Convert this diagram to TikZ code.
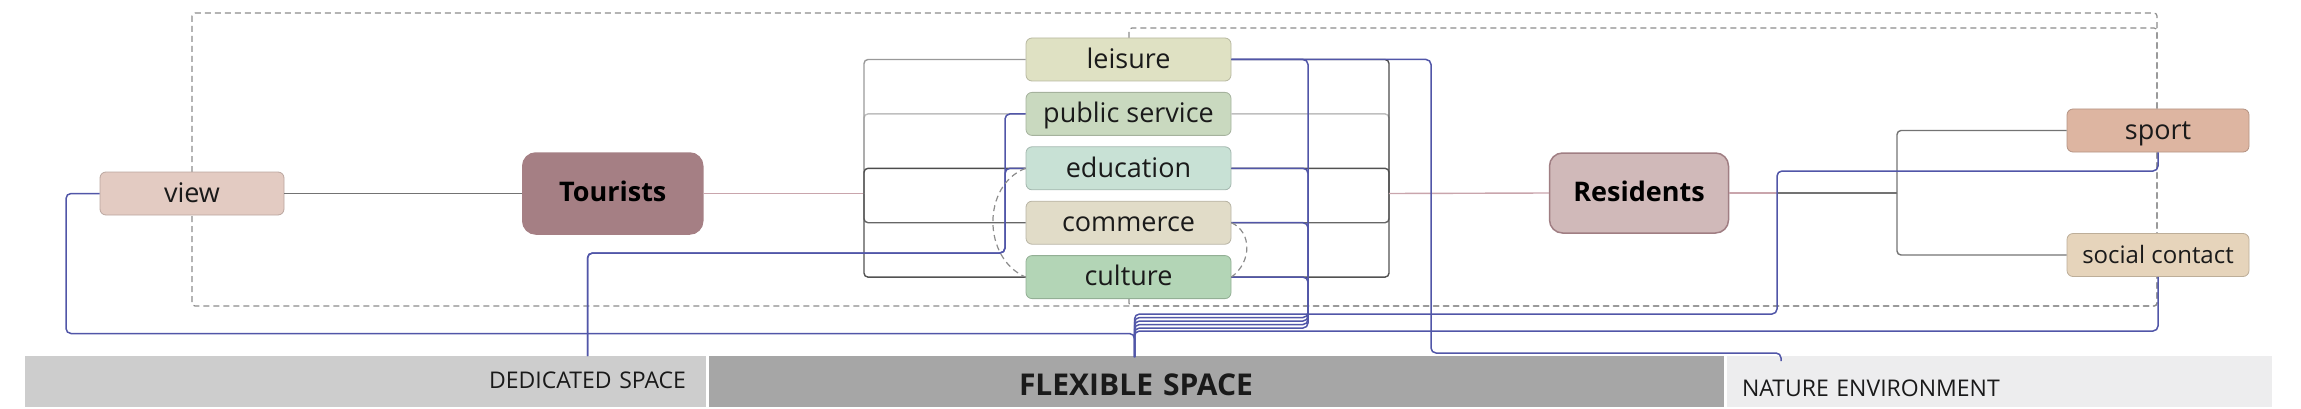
\documentclass[tikz,border=0pt]{standalone}
\usepackage{fontspec}
\setmainfont{Open Sans}
\usepackage{tikz}
\usetikzlibrary{positioning, calc}
\definecolor{txt}{HTML}{1A1A1A}
\definecolor{viewfill}{HTML}{E3CBC2}
\definecolor{tourfill}{HTML}{A57F84}
\definecolor{resfill}{HTML}{D0B9B9}
\definecolor{resline}{HTML}{A07E83}
\definecolor{leisfill}{HTML}{DFE1C3}
\definecolor{pubfill}{HTML}{C9D9BF}
\definecolor{edufill}{HTML}{C8E1D5}
\definecolor{comfill}{HTML}{E1DCC8}
\definecolor{culfill}{HTML}{B3D5B6}
\definecolor{sportfill}{HTML}{DDB5A1}
\definecolor{socfill}{HTML}{E6D4BB}
\definecolor{dedfill}{HTML}{CDCDCD}
\definecolor{flexfill}{HTML}{A6A6A6}
\definecolor{natfill}{HTML}{EDEDEE}
\definecolor{relblue}{HTML}{5156A8}
\definecolor{mauve}{HTML}{C9A5AC}
\definecolor{boundgray}{HTML}{8C8C8C}

\begin{document}
\begin{tikzpicture}[x=1pt, y=-1pt,
    topic/.style={rectangle, rounded corners=6pt, draw=#1!82!black, fill=#1, line width=0.8pt,
        minimum width=205pt, minimum height=43pt, inner sep=0pt, text height=20pt, text depth=2.4pt,
        text=txt, font=\fontsize{27}{32}\selectfont},
    group/.style={rectangle, rounded corners=13pt, draw=#1, fill=#1, line width=1.5pt,
        minimum width=180pt, minimum height=81pt, inner sep=0pt, text height=19pt, text depth=2.6pt,
        text=black, font=\fontsize{27}{32}\selectfont\bfseries},
    bar/.style={rectangle, fill=#1, minimum height=51pt, inner ysep=0pt, text depth=0pt, text=txt},
    branch/.style={line width=1.4pt, rounded corners=4pt},
    rel/.style={draw=relblue, line width=1.5pt, rounded corners=5pt},
    boundary/.style={draw=boundgray, line width=1.2pt, dash pattern=on 6pt off 4pt, rounded corners=3pt}]
    \useasboundingbox (0,0) rectangle (2301,409);
    % Boundaries
    \draw[boundary] (192,13) rectangle (2157,306);
    \draw[boundary] (1129,38) -- (1129,28) -- (2157,28) -- (2157,306) -- (1129,306) -- (1129,295);
    % Topics
    \node[topic=viewfill, minimum width=184pt] (view) at (192,193.5) {view};
    \node[group=tourfill] (tourists) at (612.75,193.5) {Tourists};
    \node[topic=leisfill] (leisure) at (1128.5,59.5) {leisure};
    \node[topic=pubfill, below=10.6pt of leisure] (pubserv) {public service};
    \node[topic=edufill, below=10.6pt of pubserv] (education) {education};
    \node[topic=comfill, below=10.6pt of education] (commerce) {commerce};
    \node[topic=culfill, below=10.6pt of commerce] (culture) {culture};
    \node[group=resfill, draw=resline, minimum width=179pt, minimum height=80pt] (residents) at (1639,193) {Residents};
    \node[topic=sportfill, minimum width=182pt] (sport) at (2158,130.5) {sport};
    \node[topic=socfill, minimum width=182pt, font=\fontsize{24}{28}\selectfont] (social) at (2158,255) {social contact};
    % Space bars
    \node[bar=dedfill, inner xsep=20pt, text width=641pt, align=right, text height=13pt,
        font=\fontsize{23}{26}\selectfont] (dedicated) at (365.5,381.5) {DEDICATED SPACE};
    \node[bar=flexfill, inner xsep=310pt, text width=395pt, align=left, text height=27pt,
        font=\fontsize{30}{34}\selectfont\bfseries] (flexible) at (1216.5,381.5) {FLEXIBLE SPACE};
    \node[bar=natfill, inner xsep=15pt, text width=515pt, align=left, text height=29pt,
        font=\fontsize{23}{26}\selectfont] (nature) at (1999.5,381.5) {NATURE ENVIRONMENT};
    % Tree
    \coordinate (hubL) at (864,193.5);
    \coordinate (hubR) at (1389,193.5);
    \coordinate (hubS) at (1897,193);
    \coordinate (resmid) at (1777,193);
    \draw[branch, draw=black!55] (view.east) -- (tourists.west);
    \draw[branch, draw=mauve] (tourists.east) -- (hubL);
    \draw[branch, draw=black!25] (hubL) |- (pubserv.west);
    \draw[branch, draw=black!40] (hubL) |- (leisure.west);
    \draw[branch, draw=black!60] (hubL) |- (commerce.west);
    \draw[branch, draw=black!70] (hubL) |- (education.west);
    \draw[branch, draw=black!68] (hubL) |- (culture.west);
    \draw[branch, draw=black!25] (pubserv.east) -| (hubR);
    \draw[branch, draw=black!60] (commerce.east) -| (hubR);
    \draw[branch, draw=black!68] (education.east) -| (hubR);
    \draw[branch, draw=black!68] (culture.east) -| (hubR);
    \draw[branch, draw=black!70] (leisure.east) -| (hubR);
    \draw[branch, draw=mauve] (hubR) -- (residents.west);
    \draw[branch, draw=mauve] (residents.east) -- (resmid);
    \draw[branch, draw=black!55] (resmid) -- (hubS);
    \draw[branch, draw=black!55] (hubS) |- (sport.west);
    \draw[branch, draw=black!55] (hubS) |- (social.west);
    % Relations
    \coordinate (dedin) at (587.5,356);
    \coordinate (flexin) at (1134.5,357);
    \coordinate (natin) at (1781,361);
    \draw[rel] (dedin) |- (1005,253) |- (pubserv.west);
    \draw[rel] (dedin) |- (1005,253) |- (education.west);
    \draw[rel] (flexin) |- (1777,314) |- (2158,171) -- (sport.south);
    \draw[rel] (flexin) |- (1308,317.5) |- (leisure.east);
    \draw[rel] (flexin) |- (1308,321) |- (education.east);
    \draw[rel] (flexin) |- (1308,324.5) |- (commerce.east);
    \draw[rel] (flexin) |- (1308,328) |- (culture.east);
    \draw[rel] (flexin) |- (2158,331) -- (social.south);
    \draw[rel] (flexin) |- (66,333.5) |- (view.west);
    \draw[rel] (natin) |- (1431,353) |- (leisure.east);
    % Links
    \draw[boundary, rounded corners=0pt] (education.west) .. controls (982,185) and (982,258) .. (culture.west);
    \draw[boundary, rounded corners=0pt] (commerce.east) .. controls (1252,232) and (1252,262) .. (culture.east);
\end{tikzpicture}
\end{document}
